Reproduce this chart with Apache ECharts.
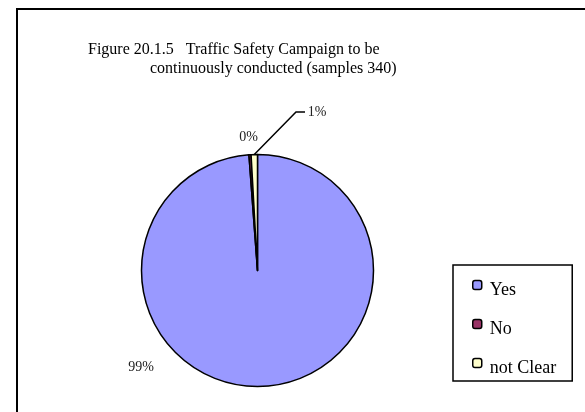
<!DOCTYPE html>
<html>
<head>
<meta charset="utf-8">
<script src="https://cdn.jsdelivr.net/npm/echarts@6/dist/echarts.min.js"></script>
<style>
html,body{margin:0;padding:0;background:#fff;}
#chart{width:585px;height:412px;}
</style>
</head>
<body>
<div id="chart"></div>
<script>
// ---- data ----
var categories = ['Yes', 'No', 'not Clear'];
var sampleCounts = [336, 1, 3];
var percentLabels = ['99%', '0%', '1%'];
var titleLines = ['Figure 20.1.5   Traffic Safety Campaign to be', 'continuously conducted (samples 340)'];

// ---- style ----
var colors = ['#9999FF', '#993366', '#FFFFCC'];
var serif = '"Liberation Serif", "Times New Roman", serif';
// label anchor positions (px) and whether to draw a leader line
var labelPos = [
  {x: 141, y: 367, line: false},
  {x: 248.5, y: 137.5, line: false},
  {x: 317, y: 112, line: true}
];

var chart = echarts.init(document.getElementById('chart'), null, {renderer: 'canvas'});

var data = categories.map(function (c, i) {
  return {name: c, value: sampleCounts[i], itemStyle: {color: colors[i]}};
});

chart.setOption({
  animation: false,
  backgroundColor: '#fff',
  title: [
    {text: titleLines[0], left: 88, top: 42, padding: 0,
     textStyle: {fontFamily: serif, fontSize: 16, fontWeight: 'normal', color: '#000'}},
    {text: titleLines[1], left: 150, top: 61, padding: 0,
     textStyle: {fontFamily: serif, fontSize: 16, fontWeight: 'normal', color: '#000'}}
  ],
  graphic: [
    {type: 'rect', shape: {x: 17, y: 9, width: 600, height: 420},
     style: {fill: 'none', stroke: '#000', lineWidth: 2}, silent: true, z: 100}
  ],
  legend: {
    orient: 'vertical',
    left: 453, top: 265,
    padding: [6, 16, 4, 19],
    borderColor: '#000', borderWidth: 1.5,
    itemWidth: 9, itemHeight: 9,
    itemGap: 11,
    data: categories,
    itemStyle: {borderColor: '#000', borderWidth: 1.5},
    formatter: function (name) { return '{t|' + name + '}'; },
    textStyle: {
      fontFamily: serif, fontSize: 18, color: '#000',
      rich: {t: {fontFamily: serif, fontSize: 18, color: '#000', lineHeight: 18, padding: [10, 0, 0, 3]}}
    }
  },
  series: [{
    type: 'pie',
    center: [257.5, 270.5],
    radius: 116,
    startAngle: 90,
    clockwise: true,
    minAngle: 0,
    avoidLabelOverlap: false,
    data: data,
    itemStyle: {borderColor: '#000', borderWidth: 1.5},
    label: {
      show: true,
      position: 'outside',
      formatter: function (p) { return percentLabels[p.dataIndex]; },
      fontFamily: serif, fontSize: 14, color: '#222'
    },
    labelLine: {show: true, length: 10, length2: 5, lineStyle: {color: '#000', width: 1.5}},
    labelLayout: function (params) {
      var lp = labelPos[params.dataIndex];
      var res = {x: lp.x, y: lp.y, align: 'center', verticalAlign: 'middle'};
      var pts = params.labelLinePoints;
      if (lp.line && pts) {
        var start = pts[0];
        res.labelLinePoints = [start, [lp.x - 21, lp.y], [lp.x - 12, lp.y]];
      } else {
        res.labelLinePoints = pts ? [pts[0], pts[0], pts[0]] : undefined;
      }
      return res;
    }
  }]
});
</script>
</body>
</html>
